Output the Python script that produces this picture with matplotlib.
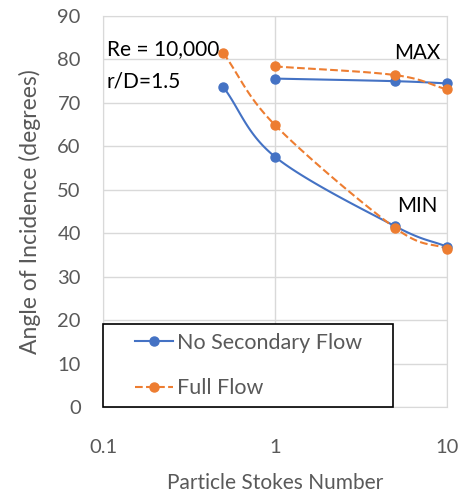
import numpy as np
import matplotlib
matplotlib.use("Agg")
from matplotlib import pyplot as plt
from matplotlib.lines import Line2D
from matplotlib.legend_handler import HandlerLine2D

# data
stokes_min = [0.5, 1, 5, 10]
stokes_max = [1, 5, 10]
nosec_min = [73.7, 57.6, 41.6, 36.9]
nosec_max = [75.6, 75.0, 74.5]
full_min = [81.5, 64.9, 41.2, 36.4]
full_max = [78.4, 76.4, 73.1]

blue = '#4472C4'
orange = '#ED7D31'
gray = '#595959'

plt.rcParams['font.family'] = ['Lato', 'DejaVu Sans']


def smooth(x, y, n=30):
    # Catmull-Rom curve through the points in log-x space (Excel "smoothed line" look)
    lx = np.log10(x)
    y = np.asarray(y, float)
    px = np.concatenate([[2 * lx[0] - lx[1]], lx, [2 * lx[-1] - lx[-2]]])
    py = np.concatenate([[2 * y[0] - y[1]], y, [2 * y[-1] - y[-2]]])
    xs, ys = [], []
    for i in range(1, len(px) - 2):
        t = np.linspace(0, 1, n)
        for p, out in ((px, xs), (py, ys)):
            p0, p1, p2, p3 = p[i - 1], p[i], p[i + 1], p[i + 2]
            out.extend(0.5 * (2 * p1 + (-p0 + p2) * t
                              + (2 * p0 - 5 * p1 + 4 * p2 - p3) * t ** 2
                              + (-p0 + 3 * p1 - 3 * p2 + p3) * t ** 3))
    return 10 ** np.array(xs), np.array(ys)


fig = plt.figure(figsize=(4.63, 4.93), dpi=100)
ax = fig.add_axes([0.2225, 0.1744, 0.743, 0.7931])

for xs, ys, col, ls in ((stokes_min, nosec_min, blue, '-'),
                        (stokes_max, nosec_max, blue, '-'),
                        (stokes_min, full_min, orange, '--'),
                        (stokes_max, full_max, orange, '--')):
    sx, sy = smooth(xs, ys)
    ax.plot(sx, sy, color=col, ls=ls, lw=1.5, zorder=3, clip_on=False)
    ax.plot(xs, ys, 'o', color=col, ms=6.5, zorder=4, clip_on=False)

# legend proxies
ax.plot([], [], '-o', color=blue, lw=1.5, ms=6.5, label='No Secondary Flow')
ax.plot([], [], '--o', color=orange, lw=1.5, ms=6.5, label='Full Flow')

ax.set_xscale('log')
ax.set_xlim(0.1, 10)
ax.set_ylim(0, 90)
ax.set_yticks(range(0, 91, 10))
ax.set_xticks([0.1, 1, 10])
ax.set_xticklabels(['0.1', '1', '10'])
ax.minorticks_off()
ax.grid(True, color='#d9d9d9', lw=1)
ax.set_axisbelow(True)
for s in ax.spines.values():
    s.set_color('#d9d9d9')
ax.tick_params(length=0, labelsize=14.5, colors=gray)
ax.tick_params(axis='y', pad=16)
ax.tick_params(axis='x', pad=23)

ax.set_xlabel('Particle Stokes Number', fontsize=15, color=gray, labelpad=12)
ax.set_ylabel('Angle of Incidence (degrees)', fontsize=16.5, color=gray, labelpad=12)

ax.text(0.105, 82.5, 'Re = 10,000', fontsize=15, color='black', va='center')
ax.text(0.105, 75.0, 'r/D=1.5', fontsize=15, color='black', va='center')
ax.text(9.15, 81.5, 'MAX', fontsize=14.8, color='black', va='center', ha='right')
ax.text(8.75, 46.2, 'MIN', fontsize=14.8, color='black', va='center', ha='right')

leg = ax.legend(loc='lower left', bbox_to_anchor=(0, 0, 0.843, 0.22), mode='expand',
                borderaxespad=0, fancybox=False, edgecolor='black', framealpha=1,
                fontsize=15.5, handlelength=2.86, handletextpad=0.19, labelspacing=1.2,
                borderpad=0.4, handler_map={Line2D: HandlerLine2D(xpad=1.09)})
leg.get_frame().set_linewidth(1.2)
for t in leg.get_texts():
    t.set_color(gray)

fig.savefig('out.png', dpi=100)
